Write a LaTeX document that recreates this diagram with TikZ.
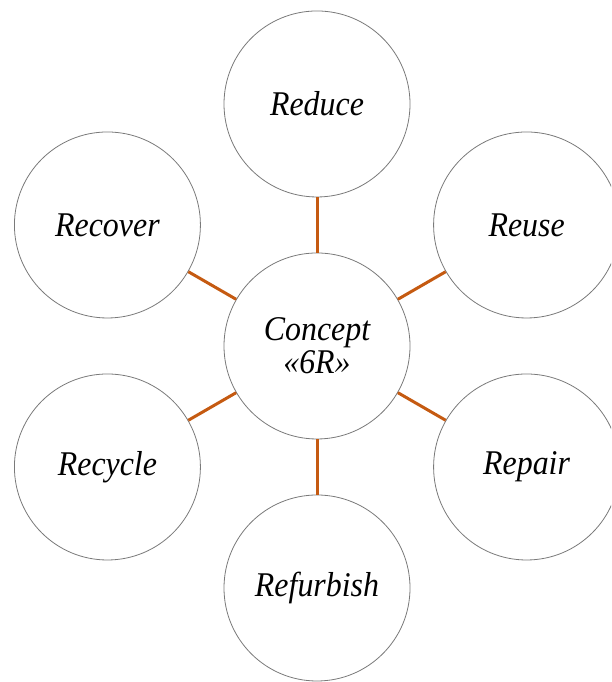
\documentclass[tikz,border=0pt]{standalone}
\usepackage{fontspec}
\setmainfont{Liberation Serif}[FakeStretch=0.92]
\definecolor{linkbrown}{HTML}{C55A11}
\definecolor{ringgray}{HTML}{7A7A7A}
\begin{document}
\begin{tikzpicture}[
  rnode/.style={circle, draw=ringgray, line width=0.6pt, fill=white, minimum size=139.5pt, inner sep=0pt, align=center, font=\fontsize{26}{25}\selectfont\itshape},
  link/.style={linkbrown, line width=2.25pt}
]
\clip (-8.356,-8.857) rectangle (7.750,9.120);

\node[rnode] (concept) at (0, 0) {Concept\\«6R»};
\node[rnode] (reduce) at (90:6.379) {Reduce};
\node[rnode] (reuse) at (30:6.379) {Reuse};
\node[rnode] (repair) at (-30:6.379) {Repair};
\node[rnode] (refurbish) at (-90:6.379) {Refurbish};
\node[rnode] (recycle) at (-150:6.379) {Recycle};
\node[rnode] (recover) at (150:6.379) {Recover};

\draw[link] (concept)--(reduce);
\draw[link] (concept)--(reuse);
\draw[link] (concept)--(repair);
\draw[link] (concept)--(refurbish);
\draw[link] (concept)--(recycle);
\draw[link] (concept)--(recover);
\end{tikzpicture}
\end{document}
